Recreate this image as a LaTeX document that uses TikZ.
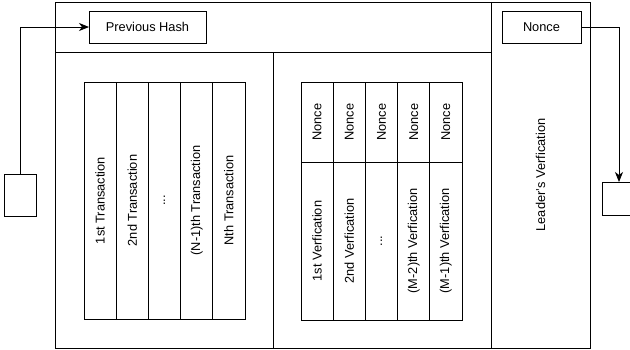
\documentclass[tikz,border=0pt]{standalone}
\usepackage{fontspec}
\setmainfont{Liberation Sans}
\usetikzlibrary{positioning,arrows.meta}

\begin{document}
\begin{tikzpicture}[x=1pt, y=-1pt,
frame/.style={draw=black, line width=0.9pt},
field/.style={draw=black, line width=0.9pt, minimum height=32pt, inner sep=0pt, outer sep=0pt, anchor=north west, font=\fontsize{12.8}{15}\selectfont},
txcell/.style={draw=black, line width=0.9pt, minimum width=32.2pt, minimum height=237pt, inner sep=0pt, outer sep=0pt, anchor=north west, font=\fontsize{12.8}{15}\selectfont},
noncecell/.style={txcell, minimum height=80pt},
vercell/.style={txcell, minimum height=158pt},
smallbox/.style={draw=black, line width=0.9pt, inner sep=0pt, outer sep=0pt, anchor=north west},
conn/.style={draw=black, line width=0.9pt, -{Stealth[length=10pt, width=8pt, inset=3pt]}},
]
\useasboundingbox (0,0) rectangle (630,349);

% block frame
\draw[frame] (55,2) rectangle (590,348);
\draw[frame] (55,52) -- (491,52);
\draw[frame] (273,52) -- (273,348);
\draw[frame] (491,2) -- (491,348);

% header fields
\node[field, minimum width=117pt] (prevhash) at (89,11) {Previous Hash};
\node[field, minimum width=79pt] (nonce) at (502,11) {Nonce};

% transactions
\node[txcell] (tx1) at (84,82) {\rotatebox{90}{1st Transaction}};
\node[txcell] (tx2) at (116.2,82) {\rotatebox{90}{2nd Transaction}};
\node[txcell] (tx3) at (148.4,82) {\rotatebox{90}{...}};
\node[txcell] (tx4) at (180.6,82) {\rotatebox{90}{(N-1)th Transaction}};
\node[txcell] (tx5) at (212.8,82) {\rotatebox{90}{Nth Transaction}};

% verifications
\node[noncecell] (vn1) at (301,82) {\rotatebox{90}{Nonce}};
\node[noncecell] (vn2) at (333.2,82) {\rotatebox{90}{Nonce}};
\node[noncecell] (vn3) at (365.4,82) {\rotatebox{90}{Nonce}};
\node[noncecell] (vn4) at (397.6,82) {\rotatebox{90}{Nonce}};
\node[noncecell] (vn5) at (429.8,82) {\rotatebox{90}{Nonce}};

\node[vercell] (ver1) at (301,162) {\rotatebox{90}{1st Verfication}};
\node[vercell] (ver2) at (333.2,162) {\rotatebox{90}{2nd Verfication}};
\node[vercell] (ver3) at (365.4,162) {\rotatebox{90}{...}};
\node[vercell] (ver4) at (397.6,162) {\rotatebox{90}{(M-2)th Verfication}};
\node[vercell] (ver5) at (429.8,162) {\rotatebox{90}{(M-1)th Verfication}};

% leader
\node[rotate=90, font=\fontsize{12.8}{15}\selectfont] (leader) at (540.5,175) {Leader's Verfication};

% neighbouring blocks
\node[smallbox, minimum width=32pt, minimum height=42pt] (lbox) at (4,174) {};
\node[smallbox, minimum width=34pt, minimum height=33pt] (rbox) at (602,182) {};

\draw[conn] (lbox.north) |- (prevhash.west);
\draw[conn] (nonce.east) -| (rbox.north);
\end{tikzpicture}
\end{document}
